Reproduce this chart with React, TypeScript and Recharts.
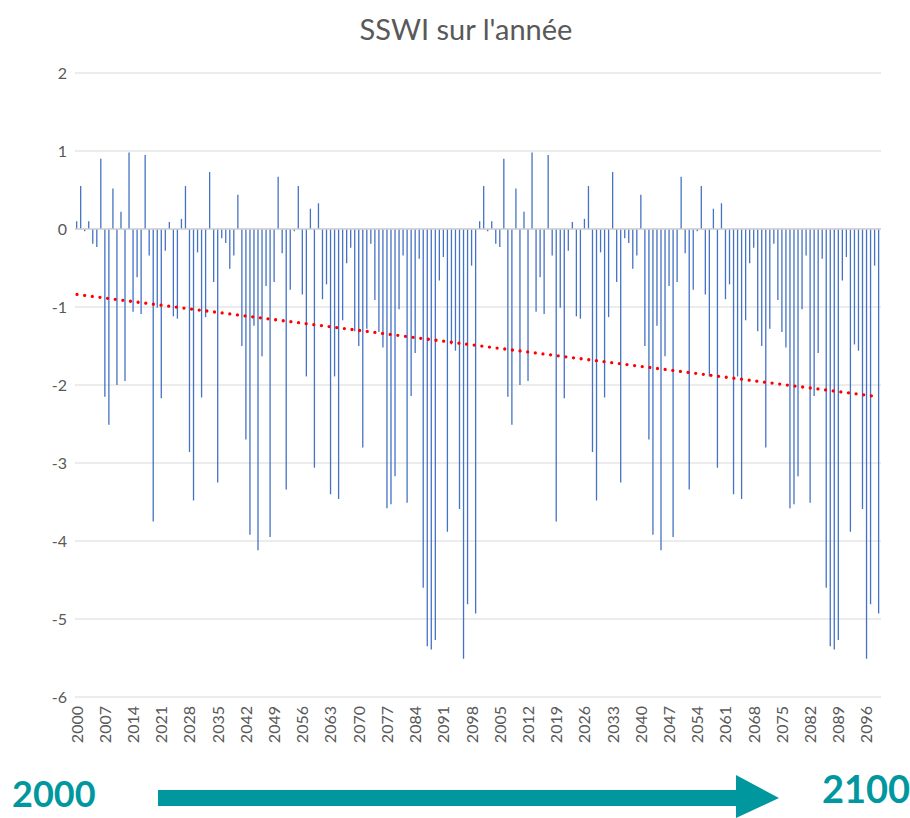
import { ComposedChart, Bar, XAxis, YAxis, CartesianGrid, ReferenceLine } from 'recharts'

// SSWI values, 2000 -> 2099, the sheet plots the run twice
const sswiFirstRun = [
  0.1, 0.55, -0.03, 0.1, -0.19, -0.23, 0.9, -2.15, -2.51, 0.52,
  -2.0, 0.22, -1.95, 0.98, -1.06, -0.62, -1.09, 0.95, -0.34, -3.75,
  -1.01, -2.17, -0.28, 0.09, -1.12, -1.15, 0.13, 0.55, -2.86, -3.48,
  -0.3, -2.16, -1.13, 0.73, -0.68, -3.25, -0.12, -0.18, -0.51, -0.34,
  0.44, -1.5, -2.7, -3.92, -1.24, -4.12, -1.63, -0.73, -3.95, -0.68,
  0.67, -0.31, -3.34, -0.78, -0.03, 0.55, -0.84, -1.89, 0.26, -3.06,
  0.33, -0.9, -0.71, -3.4, -1.89, -3.46, -1.17, -0.44, -0.24, -1.31,
  -1.5, -2.8, -1.28, -0.19, -0.91, -1.32, -1.52, -3.58, -3.53, -3.17,
  -1.03, -0.34, -3.51, -2.14, -1.59, -0.38, -4.6, -5.35, -5.39, -5.27,
  -0.66, -0.36, -3.88, -1.48, -1.56, -3.59, -5.51, -4.81, -0.47, -4.93,
]

const sswiSecondRun = [
  0.1, 0.55, -0.03, 0.1, -0.19, -0.23, 0.9, -2.15, -2.51, 0.52,
  -2.0, 0.22, -1.95, 0.98, -1.06, -0.62, -1.09, 0.95, -0.34, -3.75,
  -1.01, -2.17, -0.28, 0.09, -1.12, -1.15, 0.13, 0.55, -2.86, -3.48,
  -0.3, -2.16, -1.13, 0.73, -0.68, -3.25, -0.12, -0.18, -0.51, -0.34,
  0.44, -1.5, -2.7, -3.92, -1.24, -4.12, -1.63, -0.73, -3.95, -0.68,
  0.67, -0.31, -3.34, -0.78, -0.03, 0.55, -0.84, -1.89, 0.26, -3.06,
  0.33, -0.9, -0.71, -3.4, -1.89, -3.46, -1.17, -0.44, -0.24, -1.31,
  -1.5, -2.8, -1.28, -0.19, -0.91, -1.32, -1.52, -3.58, -3.53, -3.17,
  -1.03, -0.34, -3.51, -2.14, -1.59, -0.38, -4.6, -5.35, -5.39, -5.27,
  -0.66, -0.36, -3.88, -1.48, -1.56, -3.59, -5.51, -4.81, -0.47, -4.93,
]

const runYears = Array.from({ length: 100 }, (_, i) => 2000 + i)
const yTicks = [-6, -5, -4, -3, -2, -1, 0, 1, 2]

const TITLE = "SSWI sur l'année"
const START_LABEL = '2000'
const END_LABEL = '2100'

const FONT = 'Lato, "Noto Sans", sans-serif'
const TEXT_COLOR = '#595959'
const BAR_COLOR = '#4472C4'
const TEAL = '#00979F'

const rows = [...sswiFirstRun, ...sswiSecondRun].map((value, idx) => ({
  idx,
  year: runYears[idx % runYears.length],
  value,
}))

// linear trend, least squares over every bar like the spreadsheet does
function linearTrend(values: number[]) {
  const n = values.length
  const meanX = (n - 1) / 2
  const meanY = values.reduce((s, v) => s + v, 0) / n
  let sxy = 0
  let sxx = 0
  values.forEach((v, i) => {
    sxy += (i - meanX) * (v - meanY)
    sxx += (i - meanX) * (i - meanX)
  })
  const slope = sxy / sxx
  return { start: meanY - slope * meanX, end: meanY + slope * (n - 1 - meanX) }
}

const trend = linearTrend(rows.map((r) => r.value))

function YearTick({ x, y, payload }: { x?: number; y?: number; payload?: { value: number } }) {
  if (x == null || y == null || !payload) return null
  const row = rows[payload.value]
  return (
    <text
      x={x}
      y={y}
      dx={-1}
      dy="0.35em"
      transform={`rotate(-90, ${x}, ${y})`}
      textAnchor="end"
      fill={TEXT_COLOR}
      fontSize={16}
      fontFamily={FONT}
    >
      {row ? row.year : ''}
    </text>
  )
}

export default function App() {
  return (
    <div
      style={{
        position: 'absolute',
        left: 0,
        top: 0,
        width: 910,
        height: 818,
        background: '#fff',
        overflow: 'hidden',
        fontFamily: FONT,
      }}
    >
      <div
        style={{
          position: 'absolute',
          left: 0,
          top: 12,
          width: 932,
          textAlign: 'center',
          fontSize: 29,
          color: TEXT_COLOR,
          lineHeight: '34px',
        }}
      >
        {TITLE}
      </div>

      <div style={{ position: 'absolute', left: 0, top: 0 }}>
        <ComposedChart
          width={910}
          height={760}
          data={rows}
          margin={{ top: 73, right: 29, left: 0, bottom: 0 }}
          barCategoryGap={0}
        >
          <CartesianGrid stroke="#D9D9D9" vertical={false} />
          <XAxis
            dataKey="idx"
            type="category"
            interval={6}
            tick={<YearTick />}
            tickLine={false}
            axisLine={false}
            height={63}
          />
          <YAxis
            type="number"
            domain={[-6, 2]}
            ticks={yTicks}
            interval={0}
            width={75}
            tickLine={false}
            axisLine={false}
            tick={{ fill: TEXT_COLOR, fontSize: 16, fontFamily: FONT }}
          />
          <Bar dataKey="value" fill={BAR_COLOR} barSize={1.3} isAnimationActive={false} />
          <ReferenceLine y={0} stroke="#D0D0D0" strokeWidth={1.5} />
          <ReferenceLine
            segment={[
              { x: 0, y: trend.start },
              { x: rows.length - 1, y: trend.end },
            ]}
            stroke="#FF0000"
            strokeWidth={3.3}
            strokeDasharray="0 7.7"
            strokeLinecap="round"
          />
        </ComposedChart>
      </div>

      <div
        style={{
          position: 'absolute',
          left: 12,
          top: 775,
          fontSize: 36,
          fontWeight: 700,
          color: TEAL,
          lineHeight: '36px',
        }}
      >
        {START_LABEL}
      </div>
      <svg
        width={910}
        height={818}
        style={{ position: 'absolute', left: 0, top: 0, pointerEvents: 'none' }}
      >
        <polygon
          points="158,790 736,790 736,775 779,798 736,818 736,806 158,806"
          fill={TEAL}
        />
      </svg>
      <div
        style={{
          position: 'absolute',
          left: 822,
          top: 769,
          fontSize: 38,
          fontWeight: 700,
          color: TEAL,
          lineHeight: '38px',
        }}
      >
        {END_LABEL}
      </div>
    </div>
  )
}
